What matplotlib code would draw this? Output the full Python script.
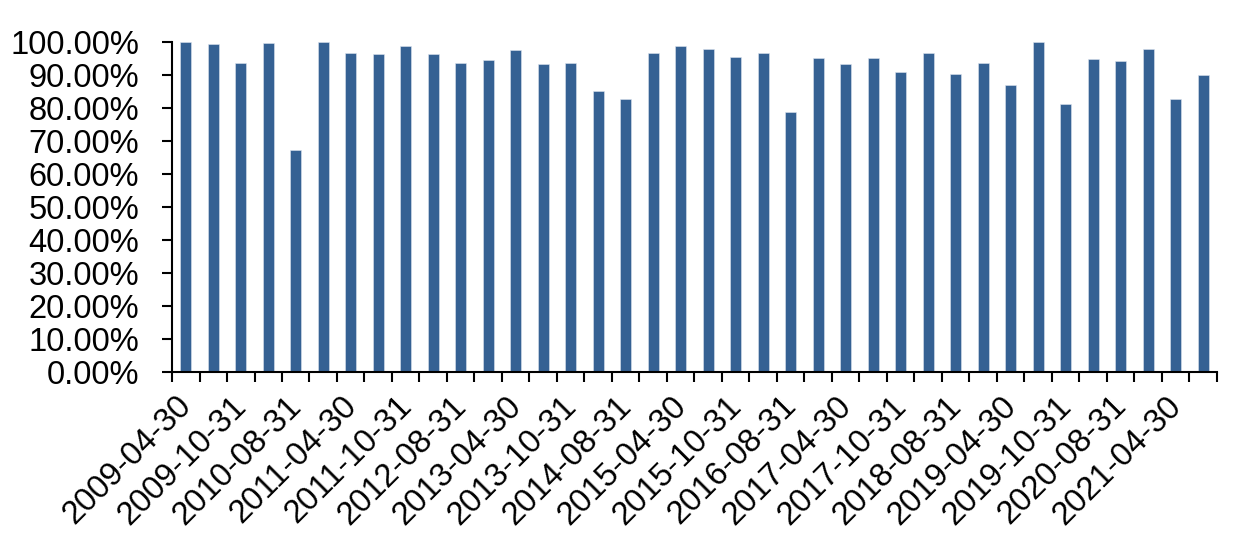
#%% Import packages
import numpy as np
import matplotlib.pyplot as plt
import matplotlib.transforms as mtransforms
from matplotlib.ticker import PercentFormatter

#%% Data
dates = ['2009-04-30', '2009-08-31', '2009-10-31', '2010-04-30', '2010-08-31', '2010-10-31',
         '2011-04-30', '2011-08-31', '2011-10-31', '2012-04-30', '2012-08-31', '2012-10-31',
         '2013-04-30', '2013-08-31', '2013-10-31', '2014-04-30', '2014-08-31', '2014-10-31',
         '2015-04-30', '2015-08-31', '2015-10-31', '2016-04-30', '2016-08-31', '2016-10-31',
         '2017-04-30', '2017-08-31', '2017-10-31', '2018-04-30', '2018-08-31', '2018-10-31',
         '2019-04-30', '2019-08-31', '2019-10-31', '2020-04-30', '2020-08-31', '2020-10-31',
         '2021-04-30', '2021-08-31']
ratio = [100.0, 99.2, 93.6, 99.6, 67.1, 100.0,
         96.7, 96.3, 98.8, 96.2, 93.6, 94.5,
         97.5, 93.2, 93.6, 85.1, 82.6, 96.6,
         98.8, 97.9, 95.4, 96.6, 78.6, 95.0,
         93.3, 95.0, 90.7, 96.6, 90.2, 93.7,
         86.8, 100.0, 81.2, 94.9, 94.1, 97.9,
         82.6, 89.8]

#%% Plot
plt.rcParams['font.family'] = ['Liberation Sans', 'DejaVu Sans']

fig = plt.figure(figsize=(12.33, 5.55), dpi=100)
ax = fig.add_axes([0.1395, 0.3292, 0.8475, 0.5957])

x = np.arange(len(dates))
ax.bar(x, np.array(ratio) / 100, width=0.4, color='#356193', edgecolor='#dce4ef', linewidth=0.4)

ax.set_xlim(-0.5, len(dates) - 0.5)
ax.set_ylim(0, 1)
ax.set_yticks(np.arange(0, 1.01, 0.1))
ax.yaxis.set_major_formatter(PercentFormatter(1.0, decimals=2))

# tick marks between categories, labels on every other bar
ax.set_xticks(np.arange(-0.5, len(dates), 1))
ax.set_xticklabels([])
ax.set_xticks(x[::2], minor=True)
ax.set_xticklabels(dates[::2], minor=True, rotation=45, ha='right',
                   rotation_mode='anchor', fontsize=23.5)
ax.tick_params(axis='x', which='major', length=7.5, width=1.5, direction='out')
ax.tick_params(axis='x', which='minor', length=0, pad=13)
ax.tick_params(axis='y', length=7.5, width=1.5, labelsize=23.5, pad=16)

# nudge the rotated labels a little to the left
shift = mtransforms.ScaledTranslation(-7 / 72, 0, fig.dpi_scale_trans)
for lab in ax.get_xticklabels(minor=True):
    lab.set_transform(lab.get_transform() + shift)

for s in ['top', 'right']:
    ax.spines[s].set_visible(False)
for s in ['left', 'bottom']:
    ax.spines[s].set_linewidth(1.5)

fig.savefig('out.png', dpi=100, facecolor='white')
